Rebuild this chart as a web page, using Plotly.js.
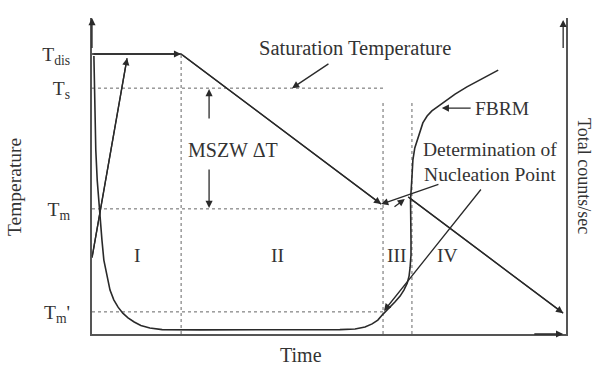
<!DOCTYPE html>
<html>
<head>
<meta charset="utf-8">
<script src="https://cdn.plot.ly/plotly-3.0.1.min.js"></script>
<style>html,body{margin:0;padding:0;background:#fff}#chart{width:594px;height:367px}</style>
</head>
<body>
<div id="chart"></div>
<script>
// Temperature levels (arbitrary units 0..100) and their tick labels
const tempLevels = [7.0, 39.6, 77.8, 88.6];
const tempLabels = ["T<sub>m</sub>'", "T<sub>m</sub>", "T<sub>s</sub>", "T<sub>dis</sub>"];

// Temperature profile (time, temperature)
const heatX = [0, 7.4];
const heatY = [24.1, 87.3];
const profileX = [0, 18.8, 61.0];
const profileY = [88.6, 88.6, 41.1];
const coolX = [66.7, 99.4];
const coolY = [43.4, 6.6];

// FBRM total counts/sec (time, counts)
const fbrmX = [0.4, 0.6, 0.8, 1.1, 1.4, 1.7, 2.1, 2.5, 3.2, 3.8, 4.6, 5.5, 6.5, 7.6, 8.9, 10.3, 12.2, 14.8, 22.8, 43.9,
  52.3, 55.5, 57.6, 59.1, 60.3, 61.4, 62.7, 63.9, 65.0, 65.8, 66.5, 66.9, 67.1, 67.3, 67.3, 67.2,
  67.5, 67.7, 68.1, 68.6, 69.2, 69.8, 70.7, 71.7, 72.8, 74.5, 76.6, 79.1, 81.9, 85.7];
const fbrmY = [88.0, 74.1, 58.2, 48.7, 42.4, 37.7, 29.7, 23.4, 17.7, 13.9, 10.8, 8.5, 6.6, 5.1, 3.8, 2.7, 1.9, 1.4, 1.3, 1.3,
  1.4, 1.6, 2.2, 3.2, 4.4, 6.3, 8.2, 10.1, 12.0, 13.9, 16.1, 18.4, 20.9, 25.0, 29.7, 42.4,
  49.7, 55.1, 58.9, 61.4, 64.6, 66.8, 69.0, 70.6, 71.8, 73.7, 75.9, 78.2, 80.4, 83.5];

// Region boundaries (time) and region labels
const boundaryX = [18.8, 61.4, 67.5];
const boundaryTop = [88.6, 73.4, 73.4];
const regionNames = ["I", "II", "III", "IV"];
const regionX = [9.5, 39.2, 64.3, 74.9];
const regionY = 24.7;
const refLineEnd = 61.8;

// Annotation arrows [headX, headY, tailX, tailY]
const arrowHeads = [
  [heatX[1], heatY[1], heatX[0], heatY[0]],
  [profileX[1], profileY[1], profileX[0], profileY[0]],
  [profileX[2], profileY[2], profileX[1], profileY[1]],
  [coolX[1], coolY[1], coolX[0], coolY[0]],
  [24.7, 77.5, 24.7, 67.7],      // MSZW up
  [24.7, 39.9, 24.7, 52.5],      // MSZW down
  [42.2, 77.8, 50.2, 85.8],      // saturation temperature pointer
  [73.8, 71.5, 80.2, 71.5],      // FBRM pointer
  [61.0, 41.1, 73.4, 47.5],      // nucleation pointer 1
  [66.0, 42.7, 63.5, 39.9],      // nucleation pointer 2
  [61.6, 7.3, 82.3, 46.2],       // nucleation pointer 3
  [0, 100, 0, 90],               // y axis arrow
  [99.4, 99.4, 99.4, 90],        // right axis arrow
  [99.4, 0, 93, 0]               // x axis arrow
];

const FONT = "Liberation Serif, Times New Roman, serif";
const INK = "#2a2a2a";
const dash = {color: "#666", width: 1, dash: "3px,3px"};

const traces = [];
tempLevels.forEach((lv, i) => {
  if (i === 3) return;
  traces.push({x: [0, refLineEnd], y: [lv, lv], mode: "lines", line: dash, hoverinfo: "skip"});
});
boundaryX.forEach((bx, i) => {
  traces.push({x: [bx, bx], y: [0, boundaryTop[i]], mode: "lines", line: dash, hoverinfo: "skip"});
});
traces.push({x: heatX, y: heatY, mode: "lines", line: {color: INK, width: 1.4}});
traces.push({x: profileX, y: profileY, mode: "lines", line: {color: INK, width: 1.4}});
traces.push({x: coolX, y: coolY, mode: "lines", line: {color: INK, width: 1.4}});
traces.push({x: fbrmX, y: fbrmY, yaxis: "y2", mode: "lines", line: {color: INK, width: 1.6}});

const annotations = [];
arrowHeads.forEach(a => {
  annotations.push({x: a[0], y: a[1], ax: a[2], ay: a[3], xref: "x", yref: "y", axref: "x", ayref: "y",
    text: "", showarrow: true, arrowhead: 2, arrowsize: 1.1, arrowwidth: 1.3, arrowcolor: INK, standoff: 0});
});
const txt = (t, x, y, size) => ({text: t, x: x, y: y, xref: "x", yref: "y", showarrow: false,
  font: {family: FONT, size: size || 19.5, color: "#333"}});
regionNames.forEach((r, i) => annotations.push(txt(r, regionX[i], regionY)));
annotations.push(txt("Saturation Temperature", 55.5, 90.5, 20.5));
annotations.push(txt("MSZW ΔT", 29.7, 58.2, 20));
annotations.push(txt("FBRM", 86.5, 71.5, 19.5));
annotations.push(txt("Determination of<br>Nucleation Point", 84.0, 54.4, 19.5));
annotations.push({text: "Time", xref: "paper", yref: "paper", x: 0.44, y: -0.066, xanchor: "center", yanchor: "middle",
  showarrow: false, font: {family: FONT, size: 20, color: "#333"}});
annotations.push({text: "Temperature", xref: "paper", yref: "paper", x: -0.1646, y: 0.465, xanchor: "center", yanchor: "middle",
  textangle: -90, showarrow: false, font: {family: FONT, size: 19.5, color: "#333"}});
annotations.push({text: "Total counts/sec", xref: "paper", yref: "paper", x: 1.038, y: 0.5, xanchor: "center", yanchor: "middle",
  textangle: 90, showarrow: false, font: {family: FONT, size: 18, color: "#333"}});

const layout = {
  width: 594, height: 367,
  margin: {l: 92, r: 28, t: 18, b: 33},
  paper_bgcolor: "#fff", plot_bgcolor: "#fff",
  showlegend: false,
  xaxis: {range: [0, 100], showgrid: false, zeroline: false, showline: true, linecolor: "#555", linewidth: 2,
    showticklabels: false, ticks: ""},
  yaxis: {range: [0, 100], showgrid: false, zeroline: false, showline: true, linecolor: "#555", linewidth: 2,
    tickvals: tempLevels, ticktext: tempLabels, ticks: "", ticklabelstandoff: 16,
    tickfont: {family: FONT, size: 19.5, color: "#333"}},
  yaxis2: {range: [0, 100], overlaying: "y", side: "right", showgrid: false, zeroline: false, showline: true,
    linecolor: "#555", linewidth: 2, showticklabels: false, ticks: ""},
  annotations: annotations
};
Plotly.newPlot("chart", traces, layout, {displayModeBar: false, staticPlot: true});
</script>
</body>
</html>
